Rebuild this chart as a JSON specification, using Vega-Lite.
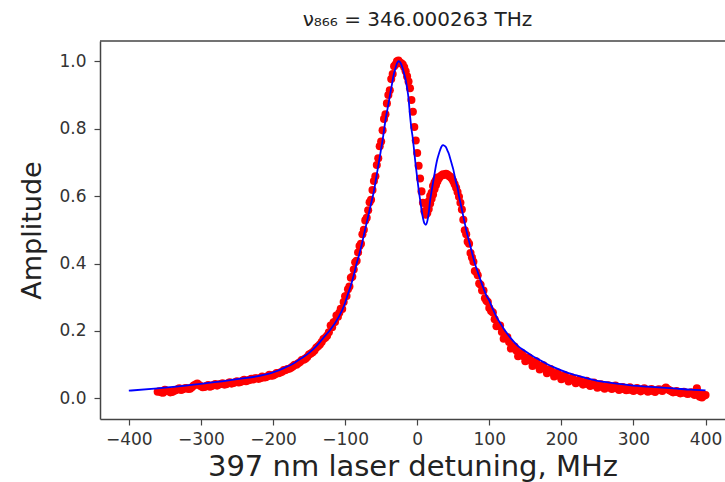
{
  "$schema": "https://vega.github.io/schema/vega-lite/v6.json",
  "width": 625,
  "height": 378,
  "autosize": {"type": "none"},
  "padding": {"left": 100, "top": 41, "right": 0, "bottom": 63},
  "background": "white",
  "config": {"view": {"stroke": null}, "font": "DejaVu Sans"},
  "title": {"text": "ν₈₆₆ = 346.000263 THz", "font": "DejaVu Sans", "fontSize": 20, "fontWeight": "normal", "color": "#222", "offset": 10, "dx": 5},
  "datasets": {
    "fit": [
      {"x": -400, "y": 0.023}, {"x": -360, "y": 0.030}, {"x": -350, "y": 0.032}, {"x": -300, "y": 0.043}, {"x": -250, "y": 0.057}, {"x": -200, "y": 0.077}, {"x": -185, "y": 0.090}, {"x": -170, "y": 0.106}, {"x": -160, "y": 0.120}, {"x": -150, "y": 0.135}, {"x": -140, "y": 0.155}, {"x": -130, "y": 0.180}, {"x": -120, "y": 0.205}, {"x": -112, "y": 0.230}, {"x": -104, "y": 0.262}, {"x": -100, "y": 0.283}, {"x": -96, "y": 0.310}, {"x": -92, "y": 0.335}, {"x": -88, "y": 0.365}, {"x": -84, "y": 0.400}, {"x": -80, "y": 0.430}, {"x": -76, "y": 0.465}, {"x": -72, "y": 0.503}, {"x": -68, "y": 0.540}, {"x": -64, "y": 0.578}, {"x": -60, "y": 0.615}, {"x": -56, "y": 0.665}, {"x": -52, "y": 0.715}, {"x": -48, "y": 0.766}, {"x": -44, "y": 0.825}, {"x": -40, "y": 0.872}, {"x": -36, "y": 0.920}, {"x": -32, "y": 0.965}, {"x": -30, "y": 0.980}, {"x": -28, "y": 0.994}, {"x": -26, "y": 1.000}, {"x": -24, "y": 0.998}, {"x": -22, "y": 0.990}, {"x": -20, "y": 0.978}, {"x": -18, "y": 0.962}, {"x": -16, "y": 0.945}, {"x": -14, "y": 0.920}, {"x": -12, "y": 0.890}, {"x": -10, "y": 0.840}, {"x": -8, "y": 0.800}, {"x": -6, "y": 0.770}, {"x": -4, "y": 0.730}, {"x": -2, "y": 0.690}, {"x": 0, "y": 0.655}, {"x": 2, "y": 0.620}, {"x": 4, "y": 0.590}, {"x": 6, "y": 0.560}, {"x": 8, "y": 0.535}, {"x": 10, "y": 0.519}, {"x": 12, "y": 0.515}, {"x": 14, "y": 0.525}, {"x": 16, "y": 0.550}, {"x": 18, "y": 0.588}, {"x": 20, "y": 0.615}, {"x": 22, "y": 0.640}, {"x": 24, "y": 0.665}, {"x": 26, "y": 0.690}, {"x": 28, "y": 0.710}, {"x": 30, "y": 0.725}, {"x": 32, "y": 0.738}, {"x": 34, "y": 0.748}, {"x": 36, "y": 0.751}, {"x": 38, "y": 0.749}, {"x": 40, "y": 0.745}, {"x": 42, "y": 0.735}, {"x": 44, "y": 0.725}, {"x": 46, "y": 0.710}, {"x": 48, "y": 0.695}, {"x": 50, "y": 0.680}, {"x": 52, "y": 0.660}, {"x": 54, "y": 0.640}, {"x": 56, "y": 0.625}, {"x": 58, "y": 0.600}, {"x": 60, "y": 0.580}, {"x": 62, "y": 0.560}, {"x": 64, "y": 0.540}, {"x": 66, "y": 0.520}, {"x": 68, "y": 0.500}, {"x": 72, "y": 0.466}, {"x": 76, "y": 0.433}, {"x": 80, "y": 0.400}, {"x": 84, "y": 0.375}, {"x": 88, "y": 0.350}, {"x": 92, "y": 0.327}, {"x": 96, "y": 0.305}, {"x": 100, "y": 0.290}, {"x": 105, "y": 0.265}, {"x": 110, "y": 0.242}, {"x": 115, "y": 0.224}, {"x": 120, "y": 0.207}, {"x": 125, "y": 0.192}, {"x": 130, "y": 0.178}, {"x": 140, "y": 0.155}, {"x": 150, "y": 0.140}, {"x": 160, "y": 0.126}, {"x": 170, "y": 0.114}, {"x": 180, "y": 0.102}, {"x": 190, "y": 0.092}, {"x": 200, "y": 0.083}, {"x": 210, "y": 0.075}, {"x": 220, "y": 0.069}, {"x": 230, "y": 0.063}, {"x": 240, "y": 0.057}, {"x": 250, "y": 0.052}, {"x": 260, "y": 0.049}, {"x": 280, "y": 0.043}, {"x": 300, "y": 0.038}, {"x": 320, "y": 0.035}, {"x": 340, "y": 0.032}, {"x": 360, "y": 0.029}, {"x": 380, "y": 0.026}, {"x": 400, "y": 0.024}
    ],
    "obs": [
      {"x": -360, "y": 0.020}, {"x": -355, "y": 0.018}, {"x": -350, "y": 0.026}, {"x": -345, "y": 0.022}, {"x": -340, "y": 0.019}, {"x": -335, "y": 0.024}, {"x": -330, "y": 0.030}, {"x": -325, "y": 0.027}, {"x": -320, "y": 0.031}, {"x": -315, "y": 0.029}, {"x": -310, "y": 0.038}, {"x": -305, "y": 0.044}, {"x": -300, "y": 0.036}, {"x": -295, "y": 0.034}, {"x": -290, "y": 0.040}, {"x": -285, "y": 0.037}, {"x": -280, "y": 0.043}, {"x": -275, "y": 0.041}, {"x": -270, "y": 0.045}, {"x": -265, "y": 0.042}, {"x": -260, "y": 0.048}, {"x": -255, "y": 0.046}, {"x": -250, "y": 0.051}, {"x": -245, "y": 0.049}, {"x": -240, "y": 0.055}, {"x": -235, "y": 0.053}, {"x": -230, "y": 0.058}, {"x": -225, "y": 0.060}, {"x": -220, "y": 0.058}, {"x": -215, "y": 0.065}, {"x": -210, "y": 0.063}, {"x": -205, "y": 0.070}, {"x": -200, "y": 0.068}, {"x": -195, "y": 0.075}, {"x": -190, "y": 0.077}, {"x": -185, "y": 0.084}, {"x": -180, "y": 0.087}, {"x": -175, "y": 0.091}, {"x": -170, "y": 0.100}, {"x": -165, "y": 0.104}, {"x": -160, "y": 0.114}, {"x": -155, "y": 0.118}, {"x": -150, "y": 0.130}, {"x": -145, "y": 0.137}, {"x": -140, "y": 0.150}, {"x": -135, "y": 0.160}, {"x": -130, "y": 0.176}, {"x": -125, "y": 0.186},
      {"x": -357.5, "y": 0.021}, {"x": -352.5, "y": 0.017}, {"x": -347.5, "y": 0.023}, {"x": -342.5, "y": 0.018}, {"x": -337.5, "y": 0.022}, {"x": -332.5, "y": 0.027}, {"x": -327.5, "y": 0.025}, {"x": -322.5, "y": 0.030}, {"x": -317.5, "y": 0.028}, {"x": -312.5, "y": 0.033}, {"x": -307.5, "y": 0.041}, {"x": -302.5, "y": 0.040}, {"x": -297.5, "y": 0.033}, {"x": -292.5, "y": 0.037}, {"x": -287.5, "y": 0.035}, {"x": -282.5, "y": 0.040}, {"x": -277.5, "y": 0.038}, {"x": -272.5, "y": 0.043}, {"x": -267.5, "y": 0.041}, {"x": -262.5, "y": 0.045}, {"x": -257.5, "y": 0.044}, {"x": -252.5, "y": 0.048}, {"x": -247.5, "y": 0.047}, {"x": -242.5, "y": 0.052}, {"x": -237.5, "y": 0.051}, {"x": -232.5, "y": 0.055}, {"x": -227.5, "y": 0.056}, {"x": -222.5, "y": 0.060}, {"x": -217.5, "y": 0.060}, {"x": -212.5, "y": 0.062}, {"x": -207.5, "y": 0.066}, {"x": -202.5, "y": 0.067}, {"x": -197.5, "y": 0.071}, {"x": -192.5, "y": 0.075}, {"x": -187.5, "y": 0.079}, {"x": -182.5, "y": 0.084}, {"x": -177.5, "y": 0.088}, {"x": -172.5, "y": 0.095}, {"x": -167.5, "y": 0.100}, {"x": -162.5, "y": 0.108}, {"x": -157.5, "y": 0.115}, {"x": -152.5, "y": 0.123}, {"x": -147.5, "y": 0.133}, {"x": -142.5, "y": 0.142}, {"x": -137.5, "y": 0.155}, {"x": -132.5, "y": 0.167}, {"x": -127.5, "y": 0.180}, {"x": -122.5, "y": 0.196},
      {"x": -120, "y": 0.216}, {"x": -118, "y": 0.211}, {"x": -116, "y": 0.226}, {"x": -114, "y": 0.227}, {"x": -112, "y": 0.246}, {"x": -110, "y": 0.242}, {"x": -108, "y": 0.254}, {"x": -106, "y": 0.266}, {"x": -104, "y": 0.265}, {"x": -102, "y": 0.286}, {"x": -100, "y": 0.303}, {"x": -98, "y": 0.304}, {"x": -96, "y": 0.324}, {"x": -94, "y": 0.332}, {"x": -92, "y": 0.358}, {"x": -90, "y": 0.361}, {"x": -88, "y": 0.382}, {"x": -86, "y": 0.404}, {"x": -84, "y": 0.408}, {"x": -82, "y": 0.433}, {"x": -80, "y": 0.452}, {"x": -78, "y": 0.459}, {"x": -76, "y": 0.487}, {"x": -74, "y": 0.500}, {"x": -72, "y": 0.528}, {"x": -70, "y": 0.536}, {"x": -68, "y": 0.558}, {"x": -66, "y": 0.582}, {"x": -64, "y": 0.589}, {"x": -62, "y": 0.618}, {"x": -60, "y": 0.645}, {"x": -58, "y": 0.659}, {"x": -56, "y": 0.692}, {"x": -54, "y": 0.712}, {"x": -52, "y": 0.748}, {"x": -50, "y": 0.762}, {"x": -48, "y": 0.795}, {"x": -46, "y": 0.829}, {"x": -44, "y": 0.843}, {"x": -42, "y": 0.875}, {"x": -40, "y": 0.900}, {"x": -38, "y": 0.914}, {"x": -36, "y": 0.947}, {"x": -34, "y": 0.962}, {"x": -32, "y": 0.985}, {"x": -30, "y": 0.990}, {"x": -28, "y": 1.000}, {"x": -26, "y": 1.002}, {"x": -24, "y": 0.996}, {"x": -22, "y": 0.994}, {"x": -20, "y": 0.990}, {"x": -18, "y": 0.982}, {"x": -16, "y": 0.970}, {"x": -14, "y": 0.955}, {"x": -12, "y": 0.940}, {"x": -10, "y": 0.920}, {"x": -8, "y": 0.885}, {"x": -6, "y": 0.850}, {"x": -4, "y": 0.805}, {"x": -2, "y": 0.765}, {"x": 0, "y": 0.728}, {"x": 2, "y": 0.690}, {"x": 4, "y": 0.652}, {"x": 6, "y": 0.614}, {"x": 8, "y": 0.580}, {"x": 10, "y": 0.555}, {"x": 12, "y": 0.545}, {"x": 14, "y": 0.550}, {"x": 16, "y": 0.562}, {"x": 18, "y": 0.578}, {"x": 20, "y": 0.592}, {"x": 22, "y": 0.605}, {"x": 24, "y": 0.620}, {"x": 26, "y": 0.632}, {"x": 28, "y": 0.643}, {"x": 30, "y": 0.652}, {"x": 32, "y": 0.658}, {"x": 34, "y": 0.662}, {"x": 36, "y": 0.665}, {"x": 38, "y": 0.663}, {"x": 40, "y": 0.666}, {"x": 42, "y": 0.664}, {"x": 44, "y": 0.660}, {"x": 46, "y": 0.657}, {"x": 48, "y": 0.652}, {"x": 50, "y": 0.645}, {"x": 52, "y": 0.635}, {"x": 54, "y": 0.625}, {"x": 56, "y": 0.612}, {"x": 58, "y": 0.598}, {"x": 60, "y": 0.580}, {"x": 62, "y": 0.560}, {"x": 64, "y": 0.530}, {"x": 66, "y": 0.499}, {"x": 68, "y": 0.487}, {"x": 70, "y": 0.465}, {"x": 72, "y": 0.459}, {"x": 74, "y": 0.431}, {"x": 76, "y": 0.418}, {"x": 78, "y": 0.405}, {"x": 80, "y": 0.378}, {"x": 82, "y": 0.375}, {"x": 84, "y": 0.365}, {"x": 86, "y": 0.341}, {"x": 88, "y": 0.337}, {"x": 90, "y": 0.320}, {"x": 92, "y": 0.320}, {"x": 94, "y": 0.297}, {"x": 96, "y": 0.290}, {"x": 98, "y": 0.286}, {"x": 100, "y": 0.268},
      {"x": 14, "y": 0.570}, {"x": 16, "y": 0.585}, {"x": 18, "y": 0.600}, {"x": 20, "y": 0.610}, {"x": 22, "y": 0.630}, {"x": 24, "y": 0.640}, {"x": 26, "y": 0.648}, {"x": 28, "y": 0.655},
      {"x": 105, "y": 0.255}, {"x": 110, "y": 0.214}, {"x": 115, "y": 0.216}, {"x": 120, "y": 0.177}, {"x": 125, "y": 0.182}, {"x": 130, "y": 0.148}, {"x": 135, "y": 0.154}, {"x": 140, "y": 0.125}, {"x": 145, "y": 0.135}, {"x": 150, "y": 0.110}, {"x": 155, "y": 0.121}, {"x": 160, "y": 0.096}, {"x": 165, "y": 0.110}, {"x": 170, "y": 0.086}, {"x": 175, "y": 0.098}, {"x": 180, "y": 0.075}, {"x": 185, "y": 0.087}, {"x": 190, "y": 0.065}, {"x": 195, "y": 0.077}, {"x": 200, "y": 0.057}, {"x": 205, "y": 0.069}, {"x": 210, "y": 0.050}, {"x": 215, "y": 0.062}, {"x": 220, "y": 0.045}, {"x": 225, "y": 0.056}, {"x": 230, "y": 0.041}, {"x": 235, "y": 0.052}, {"x": 240, "y": 0.037}, {"x": 245, "y": 0.047}, {"x": 250, "y": 0.032}, {"x": 255, "y": 0.042}, {"x": 260, "y": 0.029}, {"x": 265, "y": 0.039}, {"x": 270, "y": 0.028}, {"x": 275, "y": 0.038}, {"x": 280, "y": 0.025}, {"x": 285, "y": 0.034}, {"x": 290, "y": 0.024}, {"x": 295, "y": 0.033}, {"x": 300, "y": 0.022}, {"x": 305, "y": 0.031}, {"x": 310, "y": 0.021}, {"x": 315, "y": 0.030}, {"x": 320, "y": 0.020}, {"x": 325, "y": 0.028}, {"x": 330, "y": 0.019}, {"x": 335, "y": 0.027}, {"x": 340, "y": 0.022}, {"x": 345, "y": 0.032}, {"x": 350, "y": 0.024}, {"x": 355, "y": 0.018}, {"x": 360, "y": 0.022}, {"x": 365, "y": 0.015}, {"x": 370, "y": 0.020}, {"x": 375, "y": 0.013}, {"x": 380, "y": 0.018}, {"x": 385, "y": 0.010}, {"x": 388, "y": 0.030}, {"x": 392, "y": 0.005}, {"x": 395, "y": 0.003}, {"x": 398, "y": 0.008}, {"x": 400, "y": 0.010},
      {"x": 102.5, "y": 0.259}, {"x": 107.5, "y": 0.235}, {"x": 112.5, "y": 0.215}, {"x": 117.5, "y": 0.197}, {"x": 122.5, "y": 0.181}, {"x": 127.5, "y": 0.167}, {"x": 132.5, "y": 0.154}, {"x": 137.5, "y": 0.142}, {"x": 142.5, "y": 0.133}, {"x": 147.5, "y": 0.125}, {"x": 152.5, "y": 0.119}, {"x": 157.5, "y": 0.112}, {"x": 162.5, "y": 0.105}, {"x": 167.5, "y": 0.099}, {"x": 172.5, "y": 0.093}, {"x": 177.5, "y": 0.087}, {"x": 182.5, "y": 0.082}, {"x": 187.5, "y": 0.077}, {"x": 192.5, "y": 0.072}, {"x": 197.5, "y": 0.067}, {"x": 202.5, "y": 0.063}, {"x": 207.5, "y": 0.059}, {"x": 212.5, "y": 0.056}, {"x": 217.5, "y": 0.053}, {"x": 222.5, "y": 0.050}, {"x": 227.5, "y": 0.047}, {"x": 232.5, "y": 0.044}, {"x": 237.5, "y": 0.042}, {"x": 242.5, "y": 0.040}, {"x": 247.5, "y": 0.038}, {"x": 252.5, "y": 0.036}, {"x": 257.5, "y": 0.033}, {"x": 262.5, "y": 0.034}, {"x": 267.5, "y": 0.032}, {"x": 272.5, "y": 0.031}, {"x": 277.5, "y": 0.030}, {"x": 282.5, "y": 0.028}, {"x": 287.5, "y": 0.027}, {"x": 292.5, "y": 0.026}, {"x": 297.5, "y": 0.025}, {"x": 302.5, "y": 0.026}, {"x": 307.5, "y": 0.025}, {"x": 312.5, "y": 0.024}, {"x": 317.5, "y": 0.024}, {"x": 322.5, "y": 0.023}, {"x": 327.5, "y": 0.022}, {"x": 332.5, "y": 0.024}, {"x": 337.5, "y": 0.026}, {"x": 342.5, "y": 0.028}, {"x": 347.5, "y": 0.027}, {"x": 352.5, "y": 0.021}, {"x": 357.5, "y": 0.019}, {"x": 362.5, "y": 0.018}, {"x": 367.5, "y": 0.017}, {"x": 372.5, "y": 0.016}, {"x": 377.5, "y": 0.015}, {"x": 382.5, "y": 0.014}, {"x": 390, "y": 0.012}, {"x": 396, "y": 0.012}
    ]
  },
  "layer": [
    {
      "data": {"name": "obs"},
      "mark": {"type": "point", "filled": true, "color": "#ff0000", "opacity": 1, "size": 65},
      "encoding": {
        "x": {"field": "x", "type": "quantitative",
          "scale": {"domain": [-440, 427], "nice": false, "zero": false},
          "axis": {"values": [-400, -300, -200, -100, 0, 100, 200, 300, 400], "format": "d", "grid": false,
            "title": "397 nm laser detuning, MHz", "titleFont": "DejaVu Sans", "titleFontSize": 29, "titleFontWeight": "normal", "titleColor": "#222", "titlePadding": 5,
            "labelFont": "DejaVu Sans", "labelFontSize": 17, "labelColor": "#333", "labelPadding": 6,
            "tickColor": "#444", "tickSize": 6, "tickWidth": 1.2, "domainColor": "#444", "domainWidth": 1.5}},
        "y": {"field": "y", "type": "quantitative",
          "scale": {"domain": [-0.061, 1.06], "nice": false, "zero": false},
          "axis": {"values": [0, 0.2, 0.4, 0.6, 0.8, 1.0], "format": ".1f", "grid": false,
            "title": "Amplitude", "titleFont": "DejaVu Sans", "titleFontSize": 27, "titleFontWeight": "normal", "titleColor": "#222", "titlePadding": 12,
            "labelFont": "DejaVu Sans", "labelFontSize": 17, "labelColor": "#333", "labelPadding": 8,
            "tickColor": "#444", "tickSize": 6, "tickWidth": 1.2, "domainColor": "#444", "domainWidth": 1.5}}
      }
    },
    {
      "data": {"name": "fit"},
      "mark": {"type": "line", "color": "#0000ff", "strokeWidth": 1.8, "interpolate": "monotone"},
      "encoding": {
        "x": {"field": "x", "type": "quantitative"},
        "y": {"field": "y", "type": "quantitative"}
      }
    },
    {
      "data": {"values": [{"x": 0}]},
      "mark": {"type": "rule", "color": "#444", "strokeWidth": 1.5},
      "encoding": {
        "x": {"value": 0},
        "x2": {"value": 625},
        "y": {"value": 0}
      }
    }
  ]
}
